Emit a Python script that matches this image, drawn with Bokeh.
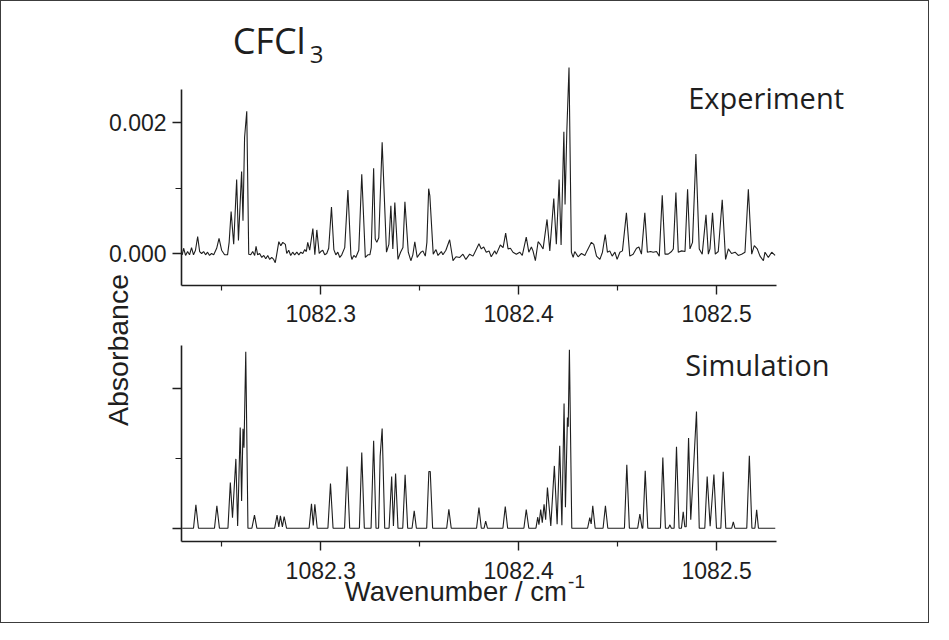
import math
from bokeh.plotting import figure
from bokeh.models import LinearAxis, Range1d, FixedTicker, Label
from bokeh.embed import file_html
from bokeh.resources import INLINE

# ---------------- data ----------------
# Experiment: absorbance trace (vertices of the recorded line)
wavenumber_exp = [
    1082.2300, 1082.2307, 1082.2317, 1082.2327, 1082.2337, 1082.2347, 1082.2357, 1082.2367, 1082.2378, 1082.2388,
    1082.2398, 1082.2408, 1082.2418, 1082.2428, 1082.2438, 1082.2448, 1082.2459, 1082.2474, 1082.2486, 1082.2499,
    1082.2514, 1082.2529, 1082.2537, 1082.2547, 1082.2560, 1082.2575, 1082.2584, 1082.2600, 1082.2607, 1082.2615,
    1082.2626, 1082.2636, 1082.2646, 1082.2656, 1082.2666, 1082.2673, 1082.2681, 1082.2691, 1082.2702, 1082.2712,
    1082.2722, 1082.2732, 1082.2742, 1082.2752, 1082.2762, 1082.2770, 1082.2777, 1082.2788, 1082.2798, 1082.2808,
    1082.2821, 1082.2828, 1082.2838, 1082.2848, 1082.2858, 1082.2868, 1082.2879, 1082.2889, 1082.2899, 1082.2909,
    1082.2919, 1082.2927, 1082.2934, 1082.2944, 1082.2960, 1082.2970, 1082.2980, 1082.2992, 1082.3000, 1082.3010,
    1082.3020, 1082.3030, 1082.3040, 1082.3054, 1082.3066, 1082.3076, 1082.3086, 1082.3096, 1082.3106, 1082.3121,
    1082.3137, 1082.3152, 1082.3157, 1082.3167, 1082.3177, 1082.3192, 1082.3207, 1082.3225, 1082.3238, 1082.3248,
    1082.3255, 1082.3267, 1082.3275, 1082.3283, 1082.3293, 1082.3310, 1082.3332, 1082.3344, 1082.3354, 1082.3364,
    1082.3374, 1082.3390, 1082.3403, 1082.3415, 1082.3425, 1082.3442, 1082.3455, 1082.3465, 1082.3475, 1082.3487,
    1082.3496, 1082.3506, 1082.3516, 1082.3528, 1082.3536, 1082.3545, 1082.3551, 1082.3568, 1082.3582, 1082.3592,
    1082.3609, 1082.3617, 1082.3632, 1082.3651, 1082.3668, 1082.3683, 1082.3702, 1082.3718, 1082.3733, 1082.3752,
    1082.3769, 1082.3799, 1082.3811, 1082.3823, 1082.3836, 1082.3850, 1082.3861, 1082.3879, 1082.3887, 1082.3907,
    1082.3921, 1082.3934, 1082.3946, 1082.3958, 1082.3971, 1082.3988, 1082.4005, 1082.4018, 1082.4038, 1082.4051,
    1082.4064, 1082.4072, 1082.4084, 1082.4098, 1082.4109, 1082.4123, 1082.4143, 1082.4157, 1082.4177, 1082.4190,
    1082.4204, 1082.4214, 1082.4228, 1082.4234, 1082.4243, 1082.4254, 1082.4266, 1082.4275, 1082.4283, 1082.4300,
    1082.4317, 1082.4334, 1082.4345, 1082.4367, 1082.4379, 1082.4393, 1082.4410, 1082.4423, 1082.4437, 1082.4448,
    1082.4460, 1082.4472, 1082.4486, 1082.4497, 1082.4511, 1082.4524, 1082.4544, 1082.4561, 1082.4578, 1082.4595,
    1082.4607, 1082.4620, 1082.4637, 1082.4650, 1082.4666, 1082.4679, 1082.4696, 1082.4710, 1082.4725, 1082.4739,
    1082.4755, 1082.4772, 1082.4781, 1082.4794, 1082.4806, 1082.4823, 1082.4840, 1082.4853, 1082.4865, 1082.4878,
    1082.4895, 1082.4912, 1082.4927, 1082.4946, 1082.4958, 1082.4966, 1082.4979, 1082.4993, 1082.5008, 1082.5028,
    1082.5045, 1082.5059, 1082.5075, 1082.5093, 1082.5109, 1082.5126, 1082.5143, 1082.5160, 1082.5177, 1082.5190,
    1082.5205, 1082.5219, 1082.5236, 1082.5244, 1082.5261, 1082.5278, 1082.5295,
]
absorbance_exp = [
    -0.00002, 0.00008, -0.00003, 0.00003, -0.00002, 0.00009, -0.00002, 0.00005, 0.00026, 0.00003,
    0.00000, 0.00003, -0.00002, 0.00002, -0.00003, 0.00000, -0.00002, 0.00008, 0.00023, 0.00005,
    -0.00002, -0.00002, 0.00017, 0.00064, 0.00014, 0.00113, 0.00020, 0.00125, 0.00050, 0.00177,
    0.00217, -0.00001, -0.00002, 0.00003, -0.00003, 0.00011, -0.00002, 0.00000, -0.00006, -0.00003,
    -0.00008, -0.00003, -0.00009, -0.00006, -0.00009, -0.00014, -0.00002, 0.00018, 0.00012, 0.00017,
    0.00014, 0.00000, 0.00005, -0.00003, 0.00002, -0.00002, 0.00002, -0.00002, 0.00002, 0.00000,
    0.00006, 0.00003, 0.00017, 0.00005, 0.00038, -0.00002, 0.00036, 0.00000, 0.00003, 0.00005,
    -0.00002, 0.00000, 0.00008, 0.00071, 0.00006, -0.00002, 0.00002, -0.00006, -0.00002, 0.00009,
    0.00097, -0.00002, -0.00009, -0.00003, -0.00006, 0.00005, 0.00121, -0.00006, -0.00002, -0.00002,
    0.00009, 0.00130, 0.00022, 0.00017, 0.00024, 0.00170, 0.00002, 0.00014, 0.00073, 0.00007,
    0.00078, -0.00009, 0.00002, 0.00009, 0.00079, 0.00002, -0.00011, -0.00002, 0.00018, -0.00006,
    -0.00002, 0.00002, 0.00004, -0.00004, 0.00017, 0.00099, 0.00088, -0.00001, 0.00006, -0.00003,
    0.00003, -0.00002, 0.00005, 0.00021, -0.00011, -0.00005, -0.00006, -0.00001, -0.00009, -0.00001,
    -0.00004, 0.00015, 0.00007, 0.00010, 0.00002, 0.00004, -0.00005, 0.00004, -0.00001, 0.00013,
    0.00009, 0.00031, 0.00007, 0.00008, 0.00002, -0.00001, 0.00002, -0.00003, 0.00025, 0.00002,
    0.00010, 0.00004, -0.00011, 0.00018, 0.00014, 0.00007, 0.00052, 0.00004, 0.00084, 0.00014,
    0.00113, 0.00013, 0.00186, 0.00075, 0.00187, 0.00284, 0.00002, -0.00006, 0.00003, -0.00005,
    0.00000, -0.00003, 0.00004, 0.00017, 0.00014, -0.00004, -0.00009, 0.00002, 0.00029, 0.00002,
    0.00004, -0.00004, 0.00002, -0.00009, 0.00002, 0.00004, 0.00062, -0.00004, -0.00001, 0.00008,
    0.00010, -0.00001, 0.00062, 0.00002, 0.00003, 0.00002, 0.00003, -0.00004, 0.00089, -0.00001,
    -0.00001, 0.00003, 0.00007, 0.00093, 0.00002, 0.00004, 0.00003, 0.00098, 0.00007, 0.00017,
    0.00152, 0.00007, -0.00001, 0.00059, -0.00001, 0.00007, 0.00062, -0.00001, 0.00003, 0.00082,
    -0.00009, 0.00007, 0.00000, 0.00002, -0.00003, -0.00001, 0.00002, 0.00098, -0.00001, 0.00012,
    0.00007, -0.00004, -0.00011, 0.00002, -0.00006, 0.00002, -0.00003,
]

# Simulation: relative intensity (vertices of the simulated line)
wavenumber_sim = [
    1082.2300,
    1082.2357, 1082.2369, 1082.2382,
    1082.2463, 1082.2475, 1082.2488,
    1082.2531, 1082.2543, 1082.2554, 1082.2571, 1082.2580, 1082.2593, 1082.2600, 1082.2607, 1082.2612, 1082.2621, 1082.2632,
    1082.2652, 1082.2665, 1082.2677,
    1082.2767, 1082.2779, 1082.2788, 1082.2796, 1082.2806, 1082.2815, 1082.2827,
    1082.2941, 1082.2953, 1082.2962, 1082.2970, 1082.2982,
    1082.3036, 1082.3049, 1082.3062,
    1082.3120, 1082.3133, 1082.3146,
    1082.3195, 1082.3207, 1082.3220,
    1082.3254, 1082.3267, 1082.3279,
    1082.3292, 1082.3300, 1082.3310, 1082.3323,
    1082.3345, 1082.3358, 1082.3367, 1082.3378, 1082.3390,
    1082.3414, 1082.3426, 1082.3439,
    1082.3461, 1082.3472, 1082.3483,
    1082.3535, 1082.3546, 1082.3553, 1082.3565,
    1082.3636, 1082.3647, 1082.3659,
    1082.3787, 1082.3799, 1082.3811, 1082.3825, 1082.3833, 1082.3842,
    1082.3920, 1082.3932, 1082.3944,
    1082.4026, 1082.4038, 1082.4051,
    1082.4087, 1082.4096, 1082.4102, 1082.4111, 1082.4119, 1082.4128, 1082.4136, 1082.4145, 1082.4162, 1082.4180,
    1082.4194, 1082.4207, 1082.4218, 1082.4229, 1082.4236, 1082.4246, 1082.4250, 1082.4256, 1082.4268,
    1082.4348, 1082.4359, 1082.4366, 1082.4374, 1082.4386,
    1082.4426, 1082.4438, 1082.4450,
    1082.4534, 1082.4546, 1082.4559,
    1082.4601, 1082.4612, 1082.4623, 1082.4627, 1082.4639, 1082.4652,
    1082.4716, 1082.4728, 1082.4741,
    1082.4756, 1082.4764, 1082.4771,
    1082.4785, 1082.4797, 1082.4810,
    1082.4822, 1082.4831, 1082.4839, 1082.4846, 1082.4858, 1082.4869, 1082.4882, 1082.4898, 1082.4912,
    1082.4940, 1082.4952, 1082.4967, 1082.4986, 1082.4999,
    1082.5021, 1082.5033, 1082.5046,
    1082.5076, 1082.5084, 1082.5092,
    1082.5152, 1082.5165, 1082.5178, 1082.5193, 1082.5202, 1082.5211,
    1082.5296,
]
intensity_sim = [
    0.0,
    0.0, 0.333, 0.0,
    0.0, 0.319, 0.0,
    0.0, 0.652, 0.15, 0.99, 0.03, 1.44, 0.39, 1.42, 1.15, 2.52, 0.0,
    0.0, 0.186, 0.0,
    0.0, 0.186, 0.02, 0.176, 0.02, 0.167, 0.0,
    0.0, 0.348, 0.04, 0.343, 0.0,
    0.0, 0.638, 0.0,
    0.0, 0.881, 0.0,
    0.0, 1.081, 0.0,
    0.0, 1.248, 0.0,
    0.0, 1.03, 1.424, 0.0,
    0.0, 0.738, 0.03, 0.781, 0.0,
    0.0, 0.762, 0.0,
    0.0, 0.248, 0.0,
    0.0, 0.81, 0.81, 0.0,
    0.0, 0.271, 0.0,
    0.0, 0.295, 0.0, 0.0, 0.10, 0.0,
    0.0, 0.31, 0.0,
    0.0, 0.265, 0.0,
    0.0, 0.157, 0.05, 0.265, 0.08, 0.343, 0.12, 0.581, 0.033, 0.89,
    0.057, 1.176, 0.043, 1.781, 0.30, 1.58, 1.45, 2.55, 0.0,
    0.0, 0.152, 0.06, 0.319, 0.0,
    0.0, 0.319, 0.0,
    0.0, 0.905, 0.0,
    0.0, 0.2, 0.0, 0.0, 0.819, 0.0,
    0.0, 1.01, 0.0,
    0.0, 0.048, 0.0,
    0.0, 1.162, 0.0,
    0.0, 0.233, 0.02, 0.02, 1.29, 0.12, 0.8, 1.667, 0.0,
    0.0, 0.738, 0.03, 0.767, 0.0,
    0.0, 0.805, 0.0,
    0.0, 0.09, 0.0,
    0.0, 1.033, 0.0, 0.0, 0.262, 0.0,
    0.0,
]

# ticks
x_ticks = [1082.3, 1082.4, 1082.5]
x_tick_labels = ["1082.3", "1082.4", "1082.5"]
x_minor_ticks = [1082.25, 1082.35, 1082.45]
exp_y_ticks = [0.0, 0.002]
exp_y_tick_labels = ["0.000", "0.002"]
exp_y_minor_ticks = [0.001]
sim_y_ticks = [0.0, 2.0]
sim_y_minor_ticks = [1.0]

# ---------------- layout constants ----------------
# The frame covers almost the whole canvas; every axis is placed at a fixed
# location inside it so that nothing (axes, texts) gets clipped.
X_VIEW = (1082.18164, 1082.58933)
X_AXIS_BOUNDS = (1082.22969, 1082.5300)
Y_AXIS_X = X_AXIS_BOUNDS[0]
EXP_RANGE = (-0.0056641, 0.0035420)           # default y range (experiment)
EXP_AXIS_BOUNDS = (-0.000493, 0.002508)
SIM_RANGE = (-1.3757, 7.2386)                  # extra y range (simulation)
SIM_AXIS_BOUNDS = (-0.19, 2.606)

INK = "#1e1e1e"
TICK_FONT = "Liberation Sans"
ANNOT_FONT = "Open Sans"

p = figure(width=929, height=623, output_backend="svg", toolbar_location=None,
           x_range=Range1d(*X_VIEW), y_range=Range1d(*EXP_RANGE),
           x_axis_location="above",
           min_border_left=85, min_border_right=37, min_border_top=20, min_border_bottom=0,
           background_fill_color="white", border_fill_color="white")
p.extra_y_ranges = {"sim": Range1d(*SIM_RANGE)}
p.outline_line_color = None
p.grid.visible = False
p.styles = {"border": "1px solid #3c3c3c"}


def style_axis(ax, tick_in=0, tick_out=9, minor_in=0, minor_out=5, standoff=6):
    ax.axis_line_color = INK
    ax.axis_line_width = 1.6
    ax.major_tick_line_color = INK
    ax.major_tick_line_width = 1.4
    ax.minor_tick_line_color = INK
    ax.minor_tick_line_width = 1.2
    ax.major_tick_in = tick_in
    ax.major_tick_out = tick_out
    ax.minor_tick_in = minor_in
    ax.minor_tick_out = minor_out
    ax.major_label_text_font = TICK_FONT
    ax.major_label_text_font_size = "23px"
    ax.major_label_text_color = INK
    ax.major_label_standoff = standoff


x_label_map = dict(zip(x_ticks, x_tick_labels))

# upper panel y axis (default left axis, fixed at the left end of the x axes)
exp_y = p.yaxis[0]
exp_y.ticker = FixedTicker(ticks=exp_y_ticks, minor_ticks=exp_y_minor_ticks)
exp_y.major_label_overrides = dict(zip(exp_y_ticks, exp_y_tick_labels))
exp_y.bounds = EXP_AXIS_BOUNDS
exp_y.fixed_location = Y_AXIS_X
style_axis(exp_y, minor_out=6)

# lower panel x axis (default axis, fixed at the bottom of the lower panel)
sim_x = p.xaxis[0]
sim_x.y_range_name = "sim"
sim_x.fixed_location = SIM_AXIS_BOUNDS[0]
sim_x.ticker = FixedTicker(ticks=x_ticks, minor_ticks=x_minor_ticks)
sim_x.major_label_overrides = x_label_map
sim_x.bounds = X_AXIS_BOUNDS
style_axis(sim_x, tick_in=9, tick_out=0, minor_in=5, minor_out=0, standoff=-37)

# upper panel x axis, fixed at the bottom of the upper panel
exp_x = LinearAxis(fixed_location=EXP_AXIS_BOUNDS[0], bounds=X_AXIS_BOUNDS,
                   ticker=FixedTicker(ticks=x_ticks, minor_ticks=x_minor_ticks),
                   major_label_overrides=x_label_map)
style_axis(exp_x, tick_in=9, tick_out=0, minor_in=5, minor_out=0, standoff=-36)
p.add_layout(exp_x, "above")

# lower panel y axis, fixed at the same x, ticks pointing left
sim_y = LinearAxis(y_range_name="sim", fixed_location=Y_AXIS_X, bounds=SIM_AXIS_BOUNDS,
                   ticker=FixedTicker(ticks=sim_y_ticks, minor_ticks=sim_y_minor_ticks),
                   major_label_overrides={t: "" for t in sim_y_ticks})
style_axis(sim_y, tick_in=9, tick_out=0, minor_in=6, minor_out=0, standoff=0)
p.add_layout(sim_y, "right")

# spectra
p.line(wavenumber_exp, absorbance_exp, line_color=INK, line_width=1.1)
p.line(wavenumber_sim, intensity_sim, y_range_name="sim", line_color=INK, line_width=1.1)


def add_label(text, x, y, size, font=ANNOT_FONT, **kw):
    opts = dict(text_align="left", text_baseline="alphabetic")
    opts.update(kw)
    p.add_layout(Label(x=x, y=y, text=text, text_font=font, text_font_size=size,
                       text_color=INK, **opts))


add_label("CFCl", 1082.25549, 0.0032443, "36px")
add_label("3", 1082.29443, 0.003043, "24px")
add_label("Experiment", 1082.48564, 0.002389, "29px")
add_label("Simulation", 1082.48412, -0.001702, "29px")
add_label("Absorbance", 1082.19757, -0.001473, "28.5px", font=TICK_FONT,
          angle=math.pi / 2, text_align="center", text_baseline="middle")
add_label("Wavenumber / cm", 1082.31214, -0.0051634, "27.5px", font=TICK_FONT)
add_label("-1", 1082.42494, -0.0050046, "19px", font=TICK_FONT)

open("out.html", "w").write(file_html(p, INLINE, title="CFCl3"))
